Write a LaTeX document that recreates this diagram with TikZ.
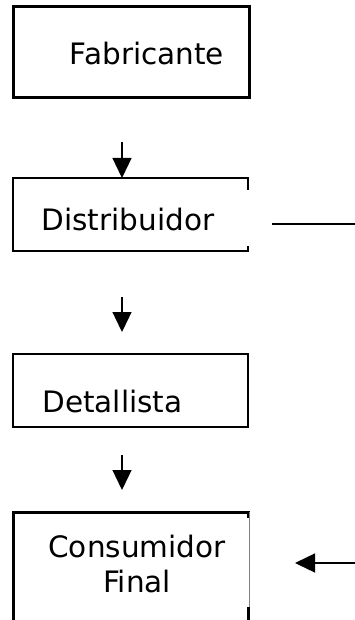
\documentclass[tikz,border=0pt]{standalone}
\usepackage{fontspec}
\setmainfont{DejaVu Sans}
\usetikzlibrary{arrows.meta}
\begin{document}
\begin{tikzpicture}[x=1pt,y=-1pt,
  lbl/.style={anchor=base,inner sep=0pt,font=\fontsize{29.5}{35}\selectfont},
  thickedge/.style={line width=3pt},
  thinedge/.style={line width=1.2pt},
  flow/.style={line width=1.3pt,-{Triangle[length=20pt,width=19pt]}},
  plain/.style={line width=1.3pt}]
\useasboundingbox (0,0) rectangle (355,620);
% Fabricante
\draw[thickedge] (13,7) rectangle (249,98);
\node[lbl] (fab) at (147,65) {Fabricante};
% Distribuidor
\draw[thinedge] (248,190) -- (248,178) -- (13,178) -- (13,251) -- (248,251) -- (248,246);
\node[lbl] (dis) at (128,230) {Distribuidor};
% Detallista
\draw[thinedge] (248,354) rectangle (13,427);
\node[lbl] (det) at (112.5,412) {Detallista};
% Consumidor Final
\draw[thickedge] (13,621) -- (13,512) -- (248,512) -- (248,518);
\draw[line width=0.8pt,gray] (249,512) -- (249,620);
\draw[thickedge] (248,607) -- (248,621);
\node[lbl] (con) at (137,557) {Consumidor};
\node[lbl] (fin) at (137,592) {Final};
% connectors
\coordinate (a1) at (122,142);
\coordinate (a1e) at (122,178);
\coordinate (a2) at (122,297);
\coordinate (a2e) at (122,332);
\coordinate (a3) at (122,455);
\coordinate (a3e) at (122,490);
\coordinate (r1) at (272,224);
\coordinate (r1e) at (355,224);
\coordinate (r2) at (355,563);
\coordinate (r2e) at (295,563);
\draw[flow] (a1) -- (a1e);
\draw[flow] (a2) -- (a2e);
\draw[flow] (a3) -- (a3e);
\draw[plain] (r1) -- (r1e);
\draw[flow] (r2) -- (r2e);
\end{tikzpicture}
\end{document}
